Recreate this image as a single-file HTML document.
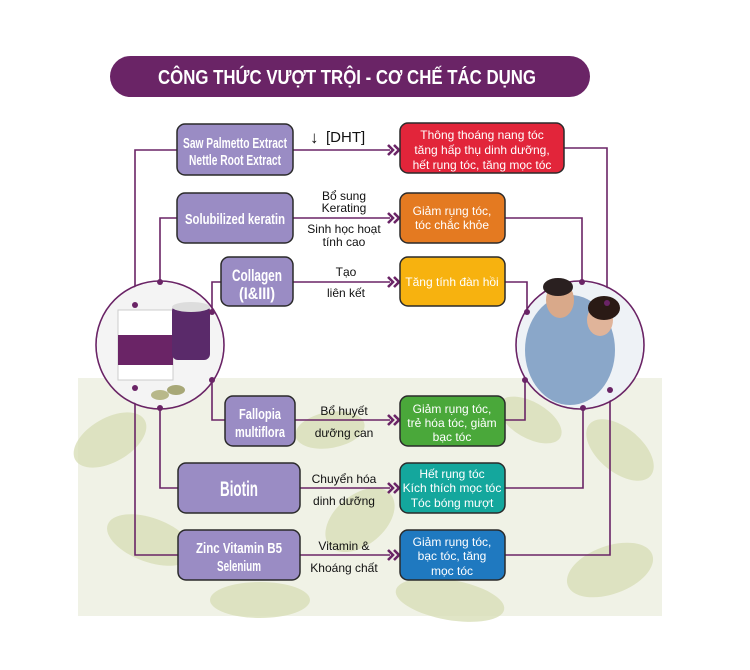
<!DOCTYPE html>
<html><head><meta charset="utf-8"><style>
body{margin:0;background:#fff;}
svg{display:block;font-family:"Liberation Sans",sans-serif;}
.lb{font-family:"Liberation Sans",sans-serif;font-size:12px;fill:#111;text-anchor:middle}
.nb{font-family:"Liberation Sans",sans-serif;font-size:15px;fill:#fff;text-anchor:middle;font-weight:bold}
.rb{font-family:"Liberation Sans",sans-serif;font-size:12px;fill:#fff;text-anchor:middle}
</style></head><body>
<svg width="750" height="670" viewBox="0 0 750 670" xmlns="http://www.w3.org/2000/svg">
<rect x="78" y="378" width="584" height="238" fill="#f0f2e6"/>
<g fill="#d9dfb8" opacity="0.8">
<ellipse cx="110" cy="440" rx="40" ry="22" transform="rotate(-30 110 440)"/>
<ellipse cx="150" cy="540" rx="45" ry="22" transform="rotate(20 150 540)"/>
<ellipse cx="260" cy="600" rx="50" ry="18"/>
<ellipse cx="360" cy="520" rx="40" ry="25" transform="rotate(-40 360 520)"/>
<ellipse cx="450" cy="600" rx="55" ry="20" transform="rotate(10 450 600)"/>
<ellipse cx="620" cy="450" rx="40" ry="22" transform="rotate(40 620 450)"/>
<ellipse cx="610" cy="570" rx="45" ry="24" transform="rotate(-20 610 570)"/>
<ellipse cx="530" cy="420" rx="35" ry="18" transform="rotate(30 530 420)"/>
<ellipse cx="330" cy="430" rx="35" ry="18" transform="rotate(-10 330 430)"/>
</g>
<rect x="110" y="56" width="480" height="41" rx="20.5" fill="#6a2466"/>
<text x="347" y="84" style="font-size:20px" font-weight="bold" fill="#fff" text-anchor="middle" textLength="378" lengthAdjust="spacingAndGlyphs">CÔNG THỨC VƯỢT TRỘI - CƠ CHẾ TÁC DỤNG</text>
<g stroke="#6a2466" stroke-width="1.6" fill="none">
<polyline points="177,150 135,150 135,555 178,555"/>
<polyline points="177,218 160,218 160,282"/>
<polyline points="160,408 160,488 178,488"/>
<polyline points="221,282 212,282 212,312"/>
<polyline points="212,380 212,420 225,420"/>
<line x1="293" y1="150" x2="390" y2="150"/>
<line x1="293" y1="218" x2="390" y2="218"/>
<line x1="293" y1="282" x2="390" y2="282"/>
<line x1="293" y1="420" x2="390" y2="420"/>
<line x1="300" y1="488" x2="390" y2="488"/>
<line x1="300" y1="555" x2="390" y2="555"/>
<polyline points="564,148 607,148 607,303"/>
<polyline points="505,218 582,218 582,282"/>
<polyline points="505,282 527,282 527,312"/>
<polyline points="505,420 525,420 525,380"/>
<polyline points="505,488 583,488 583,408"/>
<polyline points="505,555 610,555 610,390"/>
<circle cx="160" cy="345" r="64"/>
<circle cx="580" cy="345" r="64"/>
</g>
<circle cx="160" cy="345" r="63" fill="#f4f4f4"/>
<rect x="118" y="310" width="55" height="70" fill="#fff" stroke="#ccc"/>
<rect x="118" y="335" width="55" height="30" fill="#6a2466"/>
<rect x="172" y="305" width="38" height="55" rx="6" fill="#5a2a6a"/>
<ellipse cx="191" cy="307" rx="19" ry="5" fill="#ddd"/>
<ellipse cx="160" cy="395" rx="9" ry="5" fill="#b8b88a"/>
<ellipse cx="176" cy="390" rx="9" ry="5" fill="#a8a878"/>
<circle cx="580" cy="345" r="63" fill="#eef2f6"/>
<ellipse cx="570" cy="350" rx="45" ry="55" fill="#8aa7c9"/>
<ellipse cx="560" cy="300" rx="14" ry="18" fill="#d9a98a"/>
<ellipse cx="600" cy="320" rx="13" ry="16" fill="#e0b49a"/>
<ellipse cx="558" cy="287" rx="15" ry="9" fill="#2a2020"/>
<ellipse cx="604" cy="308" rx="16" ry="12" fill="#2a1a15"/>
<g fill="#6a2466">
<circle cx="135" cy="305" r="3"/><circle cx="160" cy="282" r="3"/><circle cx="212" cy="312" r="3"/>
<circle cx="212" cy="380" r="3"/><circle cx="160" cy="408" r="3"/><circle cx="135" cy="388" r="3"/>
<circle cx="607" cy="303" r="3"/><circle cx="582" cy="282" r="3"/><circle cx="527" cy="312" r="3"/>
<circle cx="525" cy="380" r="3"/><circle cx="583" cy="408" r="3"/><circle cx="610" cy="390" r="3"/>
</g>
<g fill="none" stroke="#6a2466" stroke-width="2.6">
<path d="M388,145 l5,5 l-5,5 M394,145 l5,5 l-5,5"/>
<path d="M388,213 l5,5 l-5,5 M394,213 l5,5 l-5,5"/>
<path d="M388,277 l5,5 l-5,5 M394,277 l5,5 l-5,5"/>
<path d="M388,415 l5,5 l-5,5 M394,415 l5,5 l-5,5"/>
<path d="M388,483 l5,5 l-5,5 M394,483 l5,5 l-5,5"/>
<path d="M388,550 l5,5 l-5,5 M394,550 l5,5 l-5,5"/>
</g>
<g fill="#9a8cc4" stroke="#2a2a2a" stroke-width="1.5">
<rect x="177" y="124" width="116" height="51" rx="8"/>
<rect x="177" y="193" width="116" height="50" rx="8"/>
<rect x="221" y="257" width="72" height="49" rx="8"/>
<rect x="225" y="396" width="70" height="50" rx="8"/>
<rect x="178" y="463" width="122" height="50" rx="8"/>
<rect x="178" y="530" width="122" height="50" rx="8"/>
</g>
<text class="nb" x="235" y="148" textLength="104" lengthAdjust="spacingAndGlyphs">Saw Palmetto Extract</text>
<text class="nb" x="235" y="165" textLength="92" lengthAdjust="spacingAndGlyphs">Nettle Root Extract</text>
<text class="nb" x="235" y="224" textLength="100" lengthAdjust="spacingAndGlyphs">Solubilized keratin</text>
<text class="nb" x="257" y="281" style="font-size:17px" textLength="50" lengthAdjust="spacingAndGlyphs">Collagen</text>
<text class="nb" x="257" y="299" style="font-size:17px" textLength="36" lengthAdjust="spacingAndGlyphs">(I&amp;III)</text>
<text class="nb" x="260" y="419" textLength="42" lengthAdjust="spacingAndGlyphs">Fallopia</text>
<text class="nb" x="260" y="437" textLength="50" lengthAdjust="spacingAndGlyphs">multiflora</text>
<text class="nb" x="239" y="496" style="font-size:21px" textLength="38" lengthAdjust="spacingAndGlyphs">Biotin</text>
<text class="nb" x="239" y="553" textLength="86" lengthAdjust="spacingAndGlyphs">Zinc Vitamin B5</text>
<text class="nb" x="239" y="571" textLength="44" lengthAdjust="spacingAndGlyphs">Selenium</text>
<text x="310" y="143" font-size="17" fill="#111">↓</text>
<text x="326" y="142" font-size="15" fill="#111">[DHT]</text>
<text class="lb" x="344" y="200">Bổ sung</text>
<text class="lb" x="344" y="212">Kerating</text>
<text class="lb" x="344" y="233">Sinh học hoạt</text>
<text class="lb" x="344" y="246">tính cao</text>
<text class="lb" x="346" y="276">Tạo</text>
<text class="lb" x="346" y="297">liên kết</text>
<text class="lb" x="344" y="415">Bổ huyết</text>
<text class="lb" x="344" y="437">dưỡng can</text>
<text class="lb" x="344" y="483">Chuyển hóa</text>
<text class="lb" x="344" y="505">dinh dưỡng</text>
<text class="lb" x="344" y="550">Vitamin &amp;</text>
<text class="lb" x="344" y="572">Khoáng chất</text>
<g stroke="#2a2a2a" stroke-width="1.5">
<rect x="400" y="123" width="164" height="50" rx="8" fill="#e2253a"/>
<rect x="400" y="193" width="105" height="50" rx="8" fill="#e47a21"/>
<rect x="400" y="257" width="105" height="49" rx="8" fill="#f7b20f"/>
<rect x="400" y="396" width="105" height="50" rx="8" fill="#4aa83a"/>
<rect x="400" y="463" width="105" height="50" rx="8" fill="#14a79d"/>
<rect x="400" y="530" width="105" height="50" rx="8" fill="#1f79c0"/>
</g>
<text class="rb" x="482" y="139">Thông thoáng nang tóc</text>
<text class="rb" x="482" y="154">tăng hấp thụ dinh dưỡng,</text>
<text class="rb" x="482" y="169">hết rụng tóc, tăng mọc tóc</text>
<text class="rb" x="452" y="215">Giảm rụng tóc,</text>
<text class="rb" x="452" y="229">tóc chắc khỏe</text>
<text class="rb" x="452" y="286">Tăng tính đàn hồi</text>
<text class="rb" x="452" y="413">Giảm rụng tóc,</text>
<text class="rb" x="452" y="427">trẻ hóa tóc, giảm</text>
<text class="rb" x="452" y="441">bạc tóc</text>
<text class="rb" x="452" y="478">Hết rụng tóc</text>
<text class="rb" x="452" y="492">Kích thích mọc tóc</text>
<text class="rb" x="452" y="507">Tóc bóng mượt</text>
<text class="rb" x="452" y="546">Giảm rụng tóc,</text>
<text class="rb" x="452" y="560">bạc tóc, tăng</text>
<text class="rb" x="452" y="575">mọc tóc</text>
</svg>
</body></html>
